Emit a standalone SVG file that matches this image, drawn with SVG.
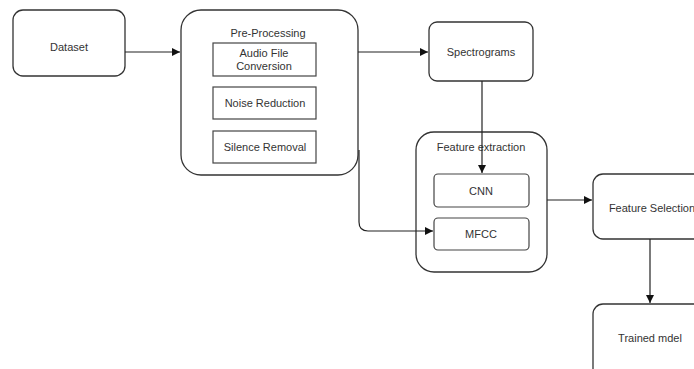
<svg xmlns="http://www.w3.org/2000/svg" width="694" height="369" viewBox="0 0 694 369">
<style>
.box{fill:#fff;stroke:#333;stroke-width:1.3}
.in{fill:#fff;stroke:#444;stroke-width:1.2}
.t{font-family:"Liberation Sans",Arial,sans-serif;font-size:11px;fill:#333;text-anchor:middle}
.c{fill:none;stroke:#222;stroke-width:1.2}
</style>
<defs>
<marker id="a" markerWidth="10" markerHeight="10" refX="8" refY="5" orient="auto" markerUnits="userSpaceOnUse">
<path d="M0,1 L8,5 L0,9 Z" fill="#111"/>
</marker>
</defs>
<rect width="694" height="369" fill="#fff"/>
<g id="dataset">
<rect class="box" x="13" y="10" width="112" height="66" rx="10"/>
<text class="t" x="69" y="51">Dataset</text>
</g>
<g id="preprocessing">
<rect class="box" x="181" y="10" width="177" height="165" rx="20"/>
<text class="t" x="268" y="37">Pre-Processing</text>
<g id="audio">
<rect class="in" x="213" y="43" width="103" height="33"/>
<text class="t" x="264" y="57">Audio File</text>
<text class="t" x="264" y="70">Conversion</text>
</g>
<g id="noise">
<rect class="in" x="213" y="87" width="103" height="32"/>
<text class="t" x="265" y="107">Noise Reduction</text>
</g>
<g id="silence">
<rect class="in" x="213" y="131" width="103" height="32"/>
<text class="t" x="265" y="151">Silence Removal</text>
</g>
</g>
<g id="spectrograms">
<rect class="box" x="429" y="22" width="104" height="59" rx="8"/>
<text class="t" x="481" y="56">Spectrograms</text>
</g>
<g id="feature-extraction">
<rect class="box" x="416" y="132" width="131" height="140" rx="18"/>
<text class="t" x="481" y="151">Feature extraction</text>
<g id="cnn">
<rect class="in" x="434" y="174" width="95" height="33" rx="4"/>
<text class="t" x="481" y="195">CNN</text>
</g>
<g id="mfcc">
<rect class="in" x="434" y="218" width="95" height="32" rx="4"/>
<text class="t" x="481" y="238">MFCC</text>
</g>
</g>
<g id="feature-selection">
<rect class="box" x="593" y="174" width="120" height="65" rx="10"/>
<text class="t" x="652" y="212">Feature Selection</text>
</g>
<g id="trained-model">
<rect class="box" x="593" y="304" width="120" height="80" rx="10"/>
<text class="t" x="650" y="342">Trained mdel</text>
</g>
<g id="connectors">
<path class="c" d="M125,52 L180,52" marker-end="url(#a)"/>
<path class="c" d="M358,52 L428,52" marker-end="url(#a)"/>
<path class="c" d="M482,81 L482,173" marker-end="url(#a)"/>
<path class="c" d="M359,150 L359,222 Q359,231 368,231 L433,231" marker-end="url(#a)"/>
<path class="c" d="M547,200 L592,200" marker-end="url(#a)"/>
<path class="c" d="M650,239 L650,303" marker-end="url(#a)"/>
</g>
</svg>
